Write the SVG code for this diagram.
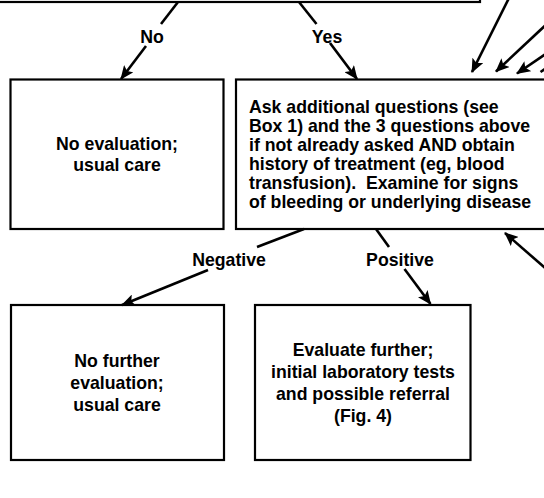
<svg xmlns="http://www.w3.org/2000/svg" width="544" height="498" viewBox="0 0 544 498">
<style>
.box{fill:#fff;stroke:#000;stroke-width:2.2}
.t{font-family:"Liberation Sans",Arial,sans-serif;font-weight:bold;font-size:17.7px;fill:#000}
.c{text-anchor:middle}
.ln{stroke:#000;stroke-width:2.6;fill:none}
.ar{marker-end:url(#ah)}
</style>
<defs>
<marker id="ah" markerUnits="userSpaceOnUse" markerWidth="14" markerHeight="12" viewBox="0 0 14 12" refX="13" refY="6" orient="auto">
<path d="M0,0 L14,6 L0,12 L3,6 z" fill="#000"/>
</marker>
</defs>
<rect width="544" height="498" fill="#fff"/>
<g id="top">
<rect class="box" x="-10" y="-60" width="490" height="62"/>
</g>
<g id="n_noeval">
<rect class="box" x="10.5" y="79.5" width="213" height="149.5"/>
<text class="t c" x="117" y="150">No evaluation;</text>
<text class="t c" x="117" y="171">usual care</text>
</g>
<g id="n_ask">
<rect class="box" x="236" y="79.5" width="330" height="149.5"/>
<text class="t" x="249" y="112.7">Ask additional questions (see</text>
<text class="t" x="249" y="131.8">Box 1) and the 3 questions above</text>
<text class="t" x="249" y="150.9">if not already asked AND obtain</text>
<text class="t" x="249" y="170">history of treatment (eg, blood</text>
<text class="t" x="249" y="189.2" xml:space="preserve" style="white-space:pre">transfusion).  Examine for signs</text>
<text class="t" x="249" y="208.3">of bleeding or underlying disease</text>
</g>
<g id="n_nofurther">
<rect class="box" x="11" y="305" width="213" height="155"/>
<text class="t c" x="117" y="367">No further</text>
<text class="t c" x="117" y="389">evaluation;</text>
<text class="t c" x="117" y="411">usual care</text>
</g>
<g id="n_evaluate">
<rect class="box" x="255" y="305" width="215.5" height="155"/>
<text class="t c" x="363" y="356">Evaluate further;</text>
<text class="t c" x="363" y="378">initial laboratory tests</text>
<text class="t c" x="363" y="400">and possible referral</text>
<text class="t c" x="363" y="421.5">(Fig. 4)</text>
</g>
<g id="connectors">
<line class="ln" x1="178" y1="2" x2="161" y2="24"/>
<line class="ln ar" x1="146" y1="46" x2="121" y2="79"/>
<text class="t c" x="152" y="43">No</text>
<line class="ln" x1="299" y1="2" x2="316.5" y2="24"/>
<line class="ln ar" x1="330" y1="43" x2="357" y2="79"/>
<text class="t c" x="327" y="43">Yes</text>
<line class="ln" x1="304" y1="229" x2="257" y2="247"/>
<line class="ln ar" x1="208" y1="270" x2="122" y2="305"/>
<text class="t c" x="229" y="266">Negative</text>
<line class="ln" x1="376" y1="229" x2="389" y2="247"/>
<line class="ln ar" x1="404.5" y1="269" x2="430.5" y2="304"/>
<text class="t c" x="400" y="266">Positive</text>
<line class="ln ar" x1="510" y1="-4" x2="472" y2="72"/>
<line class="ln ar" x1="550" y1="21" x2="496" y2="71.5"/>
<line class="ln ar" x1="550" y1="51" x2="517" y2="73.5"/>
<line class="ln" x1="540.5" y1="72" x2="545" y2="69"/>
<line class="ln ar" x1="552" y1="274" x2="505" y2="233"/>
</g>
</svg>
